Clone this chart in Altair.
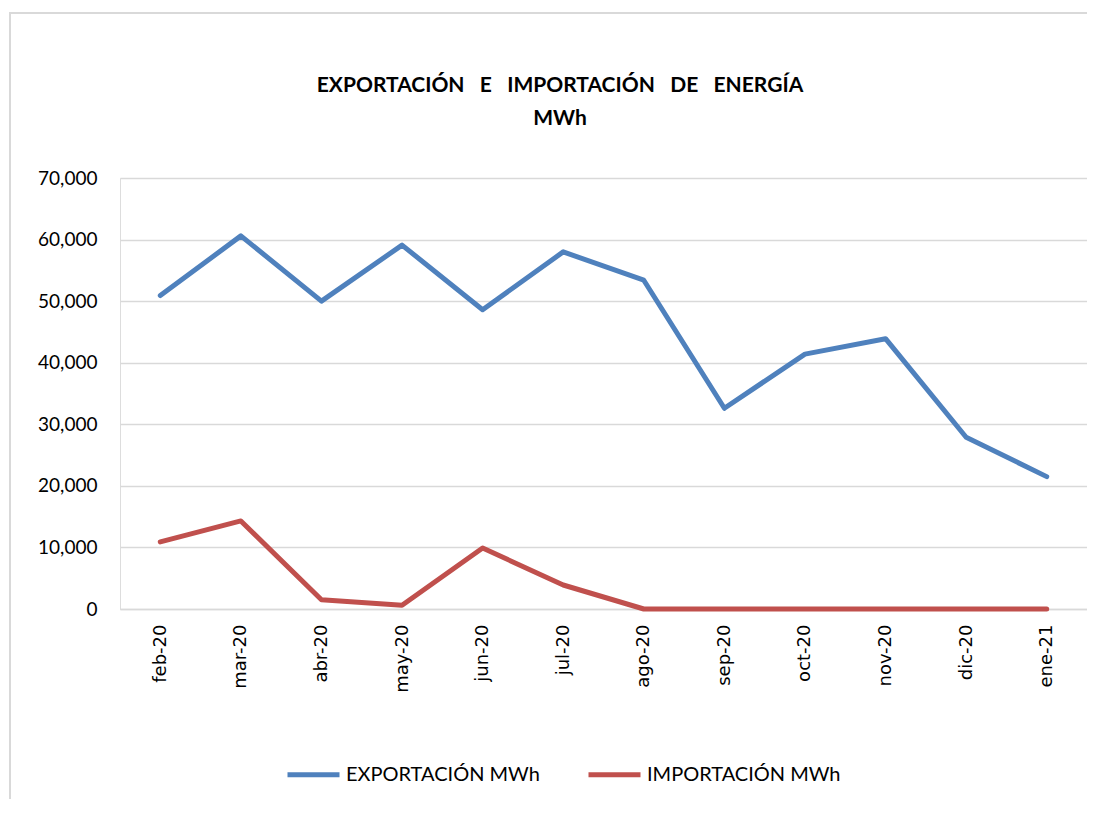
import altair as alt
import pandas as pd

months = ["feb-20", "mar-20", "abr-20", "may-20", "jun-20", "jul-20",
          "ago-20", "sep-20", "oct-20", "nov-20", "dic-20", "ene-21"]
exportacion = [50900, 60600, 50000, 59100, 48600, 58000,
               53400, 32600, 41400, 43900, 27900, 21500]
importacion = [10900, 14300, 1500, 600, 9900, 3900,
               0, 0, 0, 0, 0, 0]
series = ["EXPORTACIÓN MWh", "IMPORTACIÓN MWh"]
colors = ["#4F81BD", "#C0504D"]
NB = "\u00a0"
SEP = NB + NB + " "
title_lines = [f"EXPORTACIÓN{SEP}E{SEP}IMPORTACIÓN{SEP}DE{SEP}ENERGÍA", "MWh"]

rows = []
for name, vals in zip(series, [exportacion, importacion]):
    for m, v in zip(months, vals):
        rows.append({"mes": m, "valor": v, "serie": name})
df = pd.DataFrame(rows)

PW, PH = 967, 431
one = pd.DataFrame({"a": [0]})

border = alt.Chart(one).mark_rect(
    fill="transparent", stroke="#D9D9D9", strokeWidth=2
).encode(
    x=alt.value(-110), x2=alt.value(PW + 40),
    y=alt.value(-165), y2=alt.value(PH + 300)
)

t1 = alt.Chart(one).mark_text(
    text=title_lines[0], font="Lato", fontSize=21, fontWeight="bold",
    color="#000000", align="center", baseline="middle"
).encode(x=alt.value(440), y=alt.value(-92))
t2 = alt.Chart(one).mark_text(
    text=title_lines[1], font="Lato", fontSize=21, fontWeight="bold",
    color="#000000", align="center", baseline="middle"
).encode(x=alt.value(440), y=alt.value(-59))

lines = alt.Chart(df).mark_line(strokeWidth=5, strokeCap="round", strokeJoin="round").encode(
    x=alt.X("mes:N", sort=months, scale=alt.Scale(type="point", padding=0.5),
            axis=alt.Axis(title=None, labelAngle=270, labelAlign="right", labelBaseline="middle",
                          labelFontSize=18, labelFont="DejaVu Sans", labelColor="#000000",
                          labelPadding=15, ticks=False, domainColor="#D9D9D9",
                          domainWidth=1.5, grid=False)),
    y=alt.Y("valor:Q", scale=alt.Scale(domain=[0, 70000]),
            axis=alt.Axis(title=None, values=list(range(0, 70001, 10000)), format=",.0f",
                          labelFontSize=19, labelFont="Lato", labelColor="#000000",
                          labelPadding=23, ticks=False, domain=False,
                          gridColor="#D9D9D9", gridWidth=1.5)),
    color=alt.Color("serie:N", sort=series,
                    scale=alt.Scale(domain=series, range=colors),
                    legend=alt.Legend(title=None, orient="none", direction="horizontal",
                                      legendX=165, legendY=568,
                                      symbolType="stroke", symbolStrokeWidth=5,
                                      symbolSize=2704, labelFontSize=20, labelFont="Lato",
                                      labelColor="#000000", labelOffset=4, labelLimit=400,
                                      columnPadding=38))
)

chart = alt.layer(border, t1, t2, lines).properties(
    width=PW, height=PH,
    autosize=alt.AutoSizeParams(type="none"),
    padding={"left": 112, "top": 170, "right": 0, "bottom": 190}
).configure_view(stroke="transparent", strokeWidth=0).configure(background="white")

chart.save("out.html", embed_options={"renderer": "svg", "actions": False})
